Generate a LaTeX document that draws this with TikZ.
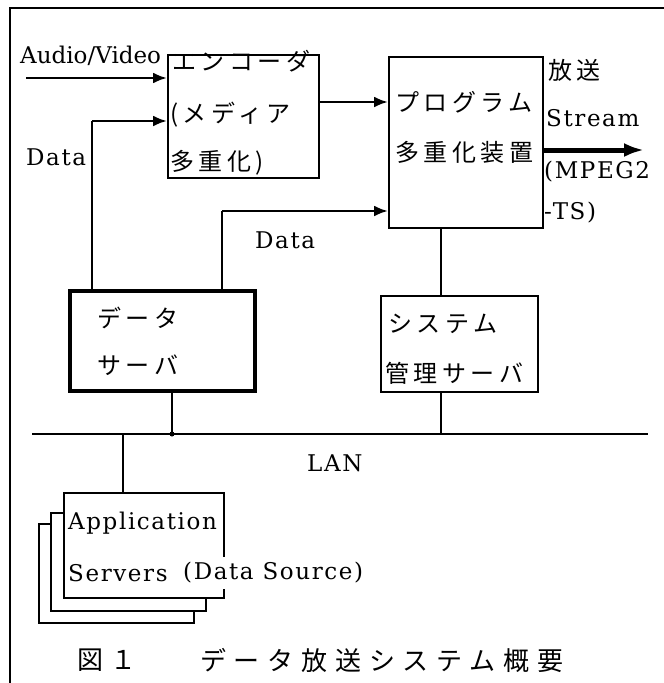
\documentclass[tikz,border=0pt]{standalone}
\usepackage{fontspec}
\setmainfont{DejaVu Serif}
\newfontfamily\jpfont{Noto Sans CJK JP}[LetterSpace=19]
\newfontfamily\capfont{Noto Sans CJK JP}[LetterSpace=30]
\newfontfamily\widefont{DejaVu Serif}[LetterSpace=7]
\usetikzlibrary{arrows.meta}
\tikzset{
  box/.style={draw,line width=1.6pt,inner sep=0pt,anchor=north west},
  txt/.style={inner sep=0pt,anchor=west,font=\fontsize{23}{28}\selectfont},
  wtxt/.style={txt,font=\fontsize{23}{28}\widefont},
  jtxt/.style={txt,font=\fontsize{24}{28}\jpfont},
  ctxt/.style={txt,font=\fontsize{26}{30}\capfont},
  wire/.style={line width=1.2pt},
  feed/.style={->,line width=2.6pt},
}
\begin{document}
\begin{tikzpicture}[x=1pt,y=-1pt,>={Latex[length=14pt,width=11pt]}]
\useasboundingbox (0,0) rectangle (664,683);
\draw[line width=1.2pt] (10,683) -- (10,8) -- (664,8);

\node[box,minimum width=151pt,minimum height=123pt] (enc) at (167,54) {};
\node[box,minimum width=154pt,minimum height=171pt] (mux) at (388,56) {};
\node[box,line width=4pt,minimum width=185pt,minimum height=100pt] (dsrv) at (68,289) {};
\node[box,minimum width=157pt,minimum height=96pt] (msrv) at (380,295) {};
\node[box,fill=white,minimum width=155pt,minimum height=99pt] (app3) at (38,523) {};
\node[box,fill=white,minimum width=155pt,minimum height=98pt] (app2) at (50,512) {};
\node[box,fill=white,minimum width=160pt,minimum height=105pt] (app1) at (63,492) {};

\node[txt] (avlbl) at (20,56) {Audio/Video};
\node[wtxt] (dlbl1) at (26,157) {Data};
\node[wtxt] (dlbl2) at (255,240) {Data};
\node[jtxt] (enc1) at (172,61) {エンコーダ};
\node[jtxt] (enc2) at (170,115) {(メディア};
\node[jtxt] (enc3) at (170,163) {多重化)};
\node[jtxt] (mux1) at (395,102) {プログラム};
\node[jtxt] (mux2) at (395,152) {多重化装置};
\node[jtxt] (ts1) at (548,70) {放送};
\node[wtxt] (ts2) at (546,118) {Stream};
\node[wtxt] (ts3) at (544,172) {(MPEG2};
\node[wtxt] (ts4) at (544,213) {-TS)};
\node[jtxt] (dsrv1) at (97,318) {データ};
\node[jtxt] (dsrv2) at (97,365) {サーバ};
\node[jtxt] (msrv1) at (388,324) {システム};
\node[jtxt] (msrv2) at (385,373) {管理サーバ};
\node[wtxt] (lanlbl) at (307,463) {LAN};
\node[wtxt] (app1a) at (68,523) {Application};
\node[wtxt] (app1b) at (68,573) {Servers};
\node[wtxt,fill=white,inner ysep=5pt] (srclbl) at (183,573) {(Data Source)};
\node[ctxt] (fignum) at (77,660) {図１};
\node[ctxt] (figttl) at (200,660) {データ放送システム概要};

\coordinate (avin) at (26,78);
\coordinate (d1) at (92,121);
\coordinate (d2) at (222,211);
\coordinate (m1) at (318,102);
\coordinate (ts) at (644,150);
\coordinate (sx) at (441,0);
\coordinate (dx) at (172,0);
\coordinate (ax) at (123,0);
\coordinate (lanL) at (32,434);
\coordinate (lanR) at (648,434);

\draw[feed] (avin) -- (avin -| enc.west);
\draw[wire] (dsrv.north -| d1) -- (d1);
\draw[feed] (d1) -- (d1 -| enc.west);
\draw[wire] (dsrv.north -| d2) -- (d2);
\draw[feed] (d2) -- (d2 -| mux.west);
\draw[feed] (m1 -| enc.east) -- (m1 -| mux.west);
\draw[->,line width=5pt,>={Latex[length=20pt,width=14pt]}] (ts -| mux.east) -- (ts);
\draw[wire] (mux.south -| sx) -- (msrv.north -| sx);
\draw[wire] (msrv.south -| sx) -- (sx |- lanL);
\draw[line width=2pt] (lanL) -- (lanR);
\draw[wire] (dsrv.south -| dx) -- (dx |- lanL);
\fill (dx |- lanL) circle (2.5pt);
\draw[wire] (ax |- lanL) -- (app1.north -| ax);
\end{tikzpicture}
\end{document}
